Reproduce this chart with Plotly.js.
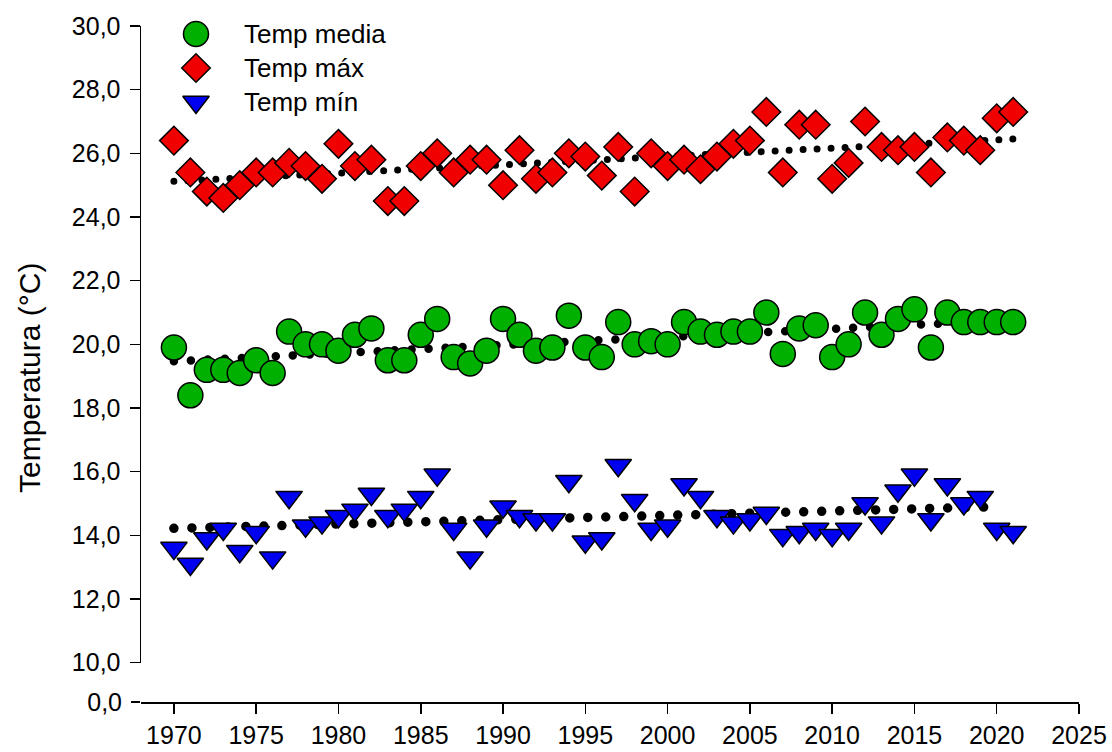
<!DOCTYPE html>
<html>
<head>
<meta charset="utf-8">
<script src="https://cdn.plot.ly/plotly-3.0.1.min.js"></script>
<style>
  html, body { margin: 0; padding: 0; background: #fff; }
  #chart { width: 1112px; height: 752px; }
  /* round caps turn the zero-length dashes of the trend lines into dots */
  .scatterlayer .js-line { stroke-linecap: round; }
</style>
</head>
<body>
<div id="chart"></div>
<script>
// Annual series, 1970-2021
const years = [1970, 1971, 1972, 1973, 1974, 1975, 1976, 1977, 1978, 1979,
               1980, 1981, 1982, 1983, 1984, 1985, 1986, 1987, 1988, 1989,
               1990, 1991, 1992, 1993, 1994, 1995, 1996, 1997, 1998, 1999,
               2000, 2001, 2002, 2003, 2004, 2005, 2006, 2007, 2008, 2009,
               2010, 2011, 2012, 2013, 2014, 2015, 2016, 2017, 2018, 2019,
               2020, 2021];

const tempMedia = [19.9, 18.4, 19.2, 19.2, 19.1, 19.5, 19.1, 20.4, 20.0, 20.0,
                   19.8, 20.3, 20.5, 19.5, 19.5, 20.3, 20.8, 19.6, 19.4, 19.8,
                   20.8, 20.3, 19.8, 19.9, 20.9, 19.9, 19.6, 20.7, 20.0, 20.1,
                   20.0, 20.7, 20.4, 20.3, 20.4, 20.4, 21.0, 19.7, 20.5, 20.6,
                   19.6, 20.0, 21.0, 20.3, 20.8, 21.1, 19.9, 21.0, 20.7, 20.7,
                   20.7, 20.7];

const tempMax = [26.4, 25.4, 24.8, 24.6, 25.0, 25.4, 25.4, 25.7, 25.6, 25.2,
                 26.3, 25.6, 25.8, 24.5, 24.5, 25.6, 26.0, 25.4, 25.8, 25.8,
                 25.0, 26.1, 25.2, 25.4, 26.0, 25.9, 25.3, 26.2, 24.8, 26.0,
                 25.6, 25.8, 25.5, 25.9, 26.3, 26.4, 27.3, 25.4, 26.9, 26.9,
                 25.2, 25.7, 27.0, 26.2, 26.1, 26.2, 25.4, 26.5, 26.4, 26.1,
                 27.1, 27.3];

const tempMin = [13.6, 13.1, 13.9, 14.2, 13.5, 14.1, 13.3, 15.2, 14.3, 14.4,
                 14.6, 14.8, 15.3, 14.6, 14.8, 15.2, 15.9, 14.2, 13.3, 14.3,
                 14.9, 14.6, 14.5, 14.5, 15.7, 13.8, 13.9, 16.2, 15.1, 14.2,
                 14.3, 15.6, 15.2, 14.6, 14.4, 14.5, 14.7, 14.0, 14.1, 14.2,
                 14.0, 14.2, 15.0, 14.4, 15.4, 15.9, 14.5, 15.6, 15.0, 15.2,
                 14.2, 14.1];

// Linear trends (end points)
const trendMediaYears = [1970, 2020];
const trendMedia      = [19.47, 20.74];
const trendMaxYears   = [1970, 2021];
const trendMax        = [25.12, 26.45];
const trendMinYears   = [1970, 2020];
const trendMin        = [14.22, 14.90];

const seriesNames = ['Temp media', 'Temp máx', 'Temp mín'];
const yTitle = 'Temperatura (°C)';

// Plot frame in pixels
const PX_L = 141, PX_R = 1079, PX_T = 26, PX_B = 702;
const PLOT_W = PX_R - PX_L;
const PLOT_H = PX_B - PX_T;
const Y_BREAK = (PX_B - 662.7) / PLOT_H;   // height of the "0,0" strip below the break

const FONT = '"Liberation Sans", Arial, Helvetica, sans-serif';

const styles = [
  { symbol: 'circle',        size: 25, color: '#00b000' },
  { symbol: 'diamond',       size: 22, color: '#f00000' },
  { symbol: 'triangle-down', size: 23, color: '#0000f0' }
];
const values = [tempMedia, tempMax, tempMin];

function trendTrace(x, y, width, gap) {
  return {
    x: x, y: y, type: 'scatter', mode: 'lines', hoverinfo: 'skip',
    line: { color: '#000', width: width, dash: '0px,' + gap + 'px' },
    xaxis: 'x', yaxis: 'y'
  };
}

const traces = [
  // empty trace that makes the lower (0,0) strip a real subplot
  { x: [], y: [], type: 'scatter', mode: 'markers', xaxis: 'x', yaxis: 'y2', hoverinfo: 'skip' },
  trendTrace(trendMediaYears, trendMedia, 8.5, 17),
  trendTrace(trendMaxYears, trendMax, 7, 14),
  trendTrace(trendMinYears, trendMin, 9.5, 18)
];

values.forEach((v, i) => {
  traces.push({
    x: years, y: v, name: seriesNames[i], type: 'scatter', mode: 'markers',
    xaxis: 'x', yaxis: 'y', cliponaxis: false,
    marker: { symbol: styles[i].symbol, size: styles[i].size, color: styles[i].color,
              line: { color: '#000', width: 1.5 } }
  });
});

// Legend keys, drawn on a pixel-scaled helper axis pair
const LEG_X = 196, LEG_Y0 = 34, LEG_DY = 34, LEG_TEXT_X = 242;
const annotations = [];
seriesNames.forEach((name, i) => {
  traces.push({
    x: [LEG_X], y: [LEG_Y0 + i * LEG_DY], type: 'scatter', mode: 'markers',
    xaxis: 'x3', yaxis: 'y3', cliponaxis: false, hoverinfo: 'skip',
    marker: { symbol: styles[i].symbol, size: styles[i].size, color: styles[i].color,
              line: { color: '#000', width: 1.5 } }
  });
  annotations.push({
    xref: 'x3', yref: 'y3', x: LEG_TEXT_X, y: LEG_Y0 + i * LEG_DY,
    xanchor: 'left', yanchor: 'middle', showarrow: false,
    text: name, font: { family: FONT, size: 26, color: '#000' }
  });
});

// Y axis title, centred on the whole frame (both strips)
annotations.push({
  xref: 'paper', yref: 'paper',
  x: (29 - PX_L) / PLOT_W, y: (PX_B - 378) / PLOT_H,
  xanchor: 'center', yanchor: 'middle', textangle: -90, showarrow: false,
  text: yTitle, font: { family: FONT, size: 30, color: '#000' }
});

const axisCommon = {
  showgrid: false, zeroline: false, ticks: 'outside', ticklen: 10, tickwidth: 1.5,
  tickcolor: '#000', linecolor: '#000', linewidth: 1.5,
  tickfont: { family: FONT, size: 25, color: '#000' }, fixedrange: true
};

const layout = {
  width: 1112, height: 752,
  margin: { l: PX_L, r: 1112 - PX_R, t: PX_T, b: 752 - PX_B, pad: 0 },
  paper_bgcolor: '#fff', plot_bgcolor: 'rgba(0,0,0,0)',
  showlegend: false,
  separators: ', ',
  font: { family: FONT, size: 25, color: '#000' },
  xaxis: Object.assign({}, axisCommon, {
    range: [1968, 2025], anchor: 'free', position: 0,
    tick0: 1970, dtick: 5, tickformat: 'd', showline: true
  }),
  yaxis: Object.assign({}, axisCommon, {
    domain: [Y_BREAK, 1], range: [10, 30], anchor: 'x',
    tick0: 10, dtick: 2, tickformat: '.1f', showline: true, ticklabelstandoff: 4
  }),
  yaxis2: Object.assign({}, axisCommon, {
    domain: [0, Y_BREAK], range: [0, 1], anchor: 'x',
    tickmode: 'array', tickvals: [0], tickformat: '.1f', showline: false,
    ticklen: 9, tickwidth: 2.5, ticklabelstandoff: 4
  }),
  xaxis3: { domain: [0, 1], range: [PX_L, PX_R], anchor: 'y3', visible: false, fixedrange: true },
  yaxis3: { domain: [0, 1], range: [PX_B, PX_T], anchor: 'x3', visible: false, fixedrange: true },
  annotations: annotations
};

Plotly.newPlot('chart', traces, layout, { displayModeBar: false, staticPlot: true });
</script>
</body>
</html>
